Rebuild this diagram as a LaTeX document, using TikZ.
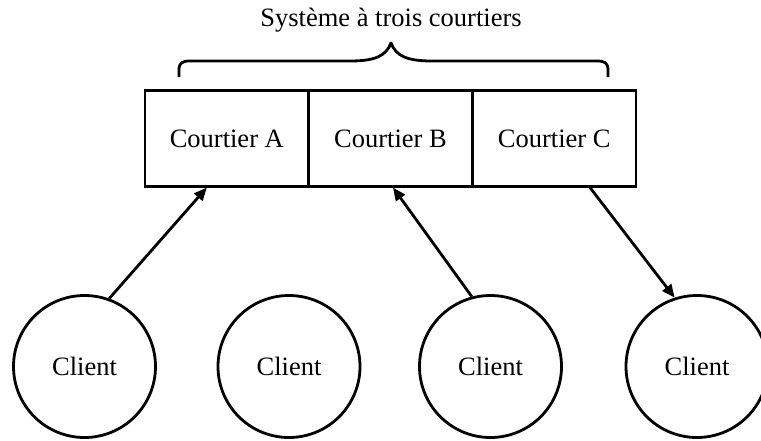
\documentclass[tikz,border=0pt]{standalone}
\usepackage{fontspec}
\setmainfont{Liberation Serif}
\usetikzlibrary{arrows.meta}
\begin{document}
\begin{tikzpicture}[x=1pt,y=-1pt,
  lw/.style={line width=2.8pt},
  broker/.style={lw,draw,rectangle,minimum width=163.7pt,minimum height=95.3pt,inner sep=0pt,font=\fontsize{26.5}{30}\selectfont},
  client/.style={lw,draw,circle,minimum size=142pt,inner sep=0pt,font=\fontsize{26.5}{30}\selectfont},
  conn/.style={lw,-{Triangle[length=13pt,width=11pt]}},
  title/.style={font=\fontsize{26.5}{30}\selectfont,inner sep=0pt},
  bracket/.style={lw,line join=round}]
\useasboundingbox (0,0) rectangle (761,440);
\node[broker] (bA) at (226.8,138.5) {Courtier A};
\node[broker] (bB) at (390.5,138.5) {Courtier B};
\node[broker] (bC) at (554.2,138.5) {Courtier C};
\node[client] (c1) at (84.5,366.5) {Client};
\node[client] (c2) at (289,366.5) {Client};
\node[client] (c3) at (490.5,366.5) {Client};
\node[client] (c4) at (697,366.5) {Client};
\node[title] (t) at (391,20) {Système à trois courtiers};
\draw[bracket] (179,77) -- (179,70) .. controls (179,63) and (182,61) .. (190,61) -- (350,61)
  .. controls (375,61) and (386,56) .. (391,43) .. controls (396,56) and (407,61) .. (432,61)
  -- (597,61) .. controls (605,61) and (608,63) .. (608,70) -- (608,77);
\draw[conn] (c1.70) -- ([xshift=-20pt]bA.south);
\draw[conn] (c3.105) -- ([xshift=2.5pt]bB.south);
\draw[conn] ([xshift=35.8pt]bC.south) -- (c4.108.6);
\end{tikzpicture}
\end{document}
